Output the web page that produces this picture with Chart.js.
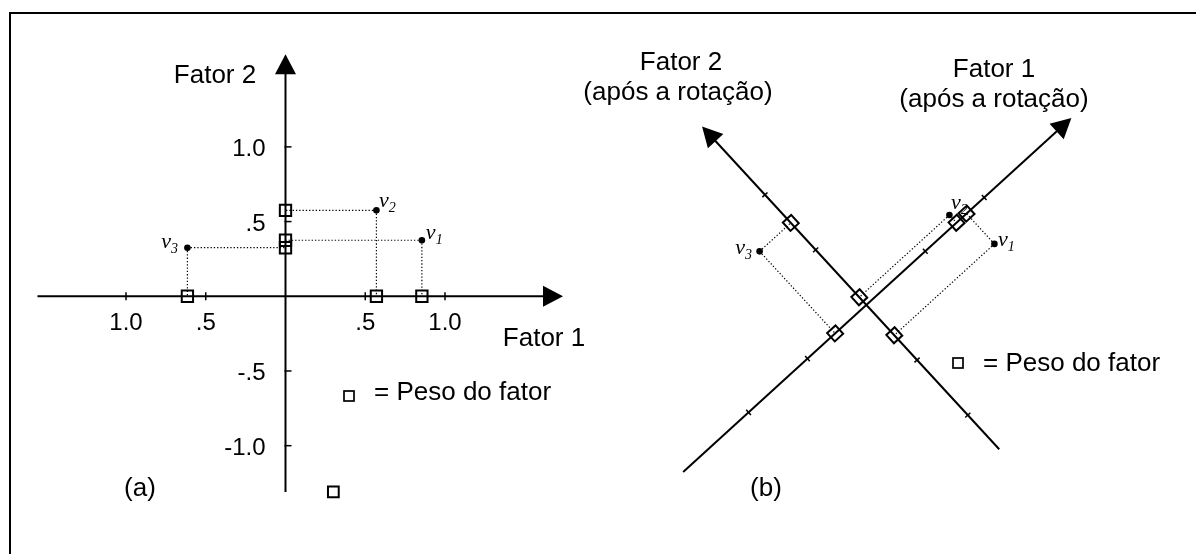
<!DOCTYPE html>
<html lang="pt">
<head>
<meta charset="utf-8">
<title>Rotação de fatores</title>
<script src="https://cdn.jsdelivr.net/npm/chart.js@4.4.1/dist/chart.umd.min.js"></script>
<style>
  html, body { margin: 0; padding: 0; background: #fff; overflow: hidden; }
  #moldura { position: absolute; left: 9px; top: 12px; width: 1400px; height: 800px;
             border-left: 2px solid #000; border-top: 2px solid #000; }
  .painel { position: absolute; top: 0; height: 554px; }
</style>
</head>
<body>
<div id="moldura"></div>
<div class="painel" style="left:0;width:600px"><canvas id="graficoA" width="600" height="554"></canvas></div>
<div class="painel" style="left:560px;width:636px"><canvas id="graficoB" width="636" height="554"></canvas></div>
<script>
// pesos
const variaveis = ["1", "2", "3"];             // v1, v2, v3
const fator1Antes = [0.855, 0.57, -0.615];
const fator2Antes = [0.375, 0.575, 0.325];
const fator1Apos = [0.85, 0.765, -0.265];
const fator2Apos = [-0.275, 0.07, 0.745];
const marcaSoltaX = [0.30];
const marcaSoltaY = [-1.31];
const valoresTicks = [-1, -0.5, 0.5, 1];
const rotulosX = ["1.0", ".5", ".5", "1.0"];
const rotulosY = ["-1.0", "-.5", ".5", "1.0"];
const anguloRotacao = 42.5;                     // graus

const SANS = "'Liberation Sans', Arial, sans-serif";
const SERIF = "'Liberation Serif', 'Times New Roman', serif";
const H = 554;

function painel(canvasId, p) {
  const W = document.getElementById(canvasId).width;
  const proj = (f1, f2) => ({
    x: f1 * p.e1[0] + f2 * p.e2[0],
    y: f1 * p.e1[1] + f2 * p.e2[1]
  });
  const pontos = p.f1.map((v, i) => proj(v, p.f2[i]));
  const pesos = [];
  const datasets = [];
  p.f1.forEach((v, i) => {
    const a = proj(v, 0), b = proj(0, p.f2[i]);
    pesos.push(a, b);
    [a, b].forEach(q => datasets.push({
      data: [pontos[i], q], showLine: true, borderColor: "#000", borderWidth: 1.2,
      borderDash: [1.3, 2], pointRadius: 0, order: 3
    }));
  });
  datasets.push({
    data: pesos, pointStyle: "rect", pointRadius: 8, pointRotation: p.rotQuadrado,
    borderColor: "#000", borderWidth: 2, backgroundColor: "rgba(0,0,0,0)", order: 2
  });
  if (p.extra) {
    datasets.push({
      data: p.extra, pointStyle: "rect", pointRadius: 7.6,
      borderColor: "#000", borderWidth: 2, backgroundColor: "rgba(0,0,0,0)", order: 2
    });
  }
  datasets.push({
    data: pontos, pointStyle: "circle", pointRadius: 3.3,
    backgroundColor: "#000", borderWidth: 0, order: 1
  });

  const desenho = {
    id: "eixos",
    beforeDatasetsDraw(chart) {
      const { ctx, scales: { x, y } } = chart;
      const px = (f1, f2) => {
        const d = proj(f1, f2);
        return { x: x.getPixelForValue(d.x), y: y.getPixelForValue(d.y) };
      };
      const at = (k, t) => (k === 0 ? px(t, 0) : px(0, t));
      ctx.save();
      ctx.strokeStyle = "#000";
      ctx.fillStyle = "#000";
      [0, 1].forEach(k => {
        const [lo, hi] = p.extensao[k];
        const a = at(k, lo), b = at(k, hi);
        const len = Math.hypot(b.x - a.x, b.y - a.y);
        const ux = (b.x - a.x) / len, uy = (b.y - a.y) / len;
        const nx = -uy, ny = ux;
        ctx.lineWidth = 2;
        ctx.beginPath();
        ctx.moveTo(a.x, a.y);
        ctx.lineTo(b.x - ux * 16, b.y - uy * 16);
        ctx.stroke();
        ctx.beginPath();
        ctx.moveTo(b.x, b.y);
        ctx.lineTo(b.x - ux * 20 + nx * 10.5, b.y - uy * 20 + ny * 10.5);
        ctx.lineTo(b.x - ux * 20 - nx * 10.5, b.y - uy * 20 - ny * 10.5);
        ctx.closePath();
        ctx.fill();
        ctx.lineWidth = 1.5;
        valoresTicks.forEach((t, j) => {
          const c = at(k, t);
          const [s0, s1] = p.tickSpan[k];
          ctx.beginPath();
          ctx.moveTo(c.x + nx * s0, c.y + ny * s0);
          ctx.lineTo(c.x + nx * s1, c.y + ny * s1);
          ctx.stroke();
          if (p.rotulosTicks) {
            ctx.font = "24px " + SANS;
            if (k === 0) {
              ctx.textAlign = "center";
              ctx.fillText(rotulosX[j], c.x, c.y + 34);
            } else {
              ctx.textAlign = "right";
              ctx.fillText(rotulosY[j], c.x - 20, c.y + 9);
            }
          }
        });
      });
      // títulos, letra do painel e legenda
      p.textos.forEach(tx => {
        ctx.font = tx.font;
        ctx.textAlign = tx.align || "center";
        ctx.fillText(tx.t, tx.x, tx.y);
      });
      ctx.lineWidth = 1.7;
      ctx.strokeRect(p.legenda.x - 5, p.legenda.y - 5, 10, 10);
      ctx.font = "26px " + SANS;
      ctx.textAlign = "left";
      ctx.fillText("= Peso do fator", p.legenda.x + 25, p.legenda.yTexto);
      ctx.restore();
    },
    afterDatasetsDraw(chart) {
      const { ctx, scales: { x, y } } = chart;
      ctx.save();
      ctx.fillStyle = "#000";
      ctx.textAlign = "left";
      pontos.forEach((q, i) => {
        const r = p.rotulosV[i];
        ctx.font = "italic 22px " + SERIF;
        const wv = ctx.measureText("v").width;
        ctx.font = "italic 14px " + SERIF;
        const wd = ctx.measureText(variaveis[i]).width;
        let x0 = x.getPixelForValue(q.x) + r.dx;
        const y0 = y.getPixelForValue(q.y) + r.dy;
        if (r.direita) x0 -= wv + wd;
        ctx.font = "italic 22px " + SERIF;
        ctx.fillText("v", x0, y0);
        ctx.font = "italic 14px " + SERIF;
        ctx.fillText(variaveis[i], x0 + wv, y0 + 5);
      });
      ctx.restore();
    }
  };

  return new Chart(document.getElementById(canvasId), {
    type: "scatter",
    data: { datasets },
    options: {
      responsive: false,
      devicePixelRatio: 1,
      animation: false,
      events: [],
      layout: { padding: 0 },
      plugins: { legend: { display: false }, tooltip: { enabled: false } },
      scales: {
        x: { type: "linear", display: false,
             min: -p.origem.x / p.escala.x, max: (W - p.origem.x) / p.escala.x },
        y: { type: "linear", display: false,
             min: -(H - p.origem.y) / p.escala.y, max: p.origem.y / p.escala.y }
      }
    },
    plugins: [desenho]
  });
}

// (a) fatores antes da rotação
painel("graficoA", {
  f1: fator1Antes, f2: fator2Antes,
  e1: [1, 0], e2: [0, 1],
  origem: { x: 285, y: 297 }, escala: { x: 165, y: 155 },
  extensao: [[-1.555, 1.74], [-1.31, 1.62]],
  tickSpan: [[-4, 4], [-1, 6]],
  rotulosTicks: true,
  rotQuadrado: 0,
  extra: marcaSoltaX.map((v, i) => ({ x: v, y: marcaSoltaY[i] })),
  rotulosV: [{ dx: 4, dy: -1 }, { dx: 2.5, dy: -3 }, { dx: -9.5, dy: 0, direita: true }],
  textos: [
    { t: "Fator 2", x: 215, y: 83, font: "26px " + SANS },
    { t: "Fator 1", x: 544, y: 346, font: "26px " + SANS },
    { t: "(a)", x: 140, y: 496, font: "26px " + SANS }
  ],
  legenda: { x: 349, y: 396, yTexto: 400 }
});

// (b) fatores após a rotação (canvas começa em x = 560)
const c = Math.cos(anguloRotacao * Math.PI / 180);
const s = Math.sin(anguloRotacao * Math.PI / 180);
const k2 = 155 / 165;
painel("graficoB", {
  f1: fator1Apos, f2: fator2Apos,
  e1: [c, s], e2: [-s * k2, c * k2],
  origem: { x: 306, y: 306 }, escala: { x: 165, y: 165 },
  extensao: [[-1.555, 1.74], [-1.31, 1.62]],
  tickSpan: [[-3.5, 3.5], [-3.5, 3.5]],
  rotulosTicks: false,
  rotQuadrado: -anguloRotacao,
  rotulosV: [{ dx: 3.5, dy: 2 }, { dx: 1.5, dy: -6 }, { dx: -7.5, dy: 3, direita: true }],
  textos: [
    { t: "Fator 2", x: 121, y: 70, font: "26px " + SANS },
    { t: "(após a rotação)", x: 118, y: 100, font: "26px " + SANS },
    { t: "Fator 1", x: 434, y: 77, font: "26px " + SANS },
    { t: "(após a rotação)", x: 434, y: 107, font: "26px " + SANS },
    { t: "(b)", x: 206, y: 496, font: "26px " + SANS }
  ],
  legenda: { x: 398, y: 363, yTexto: 371 }
});
</script>
</body>
</html>
